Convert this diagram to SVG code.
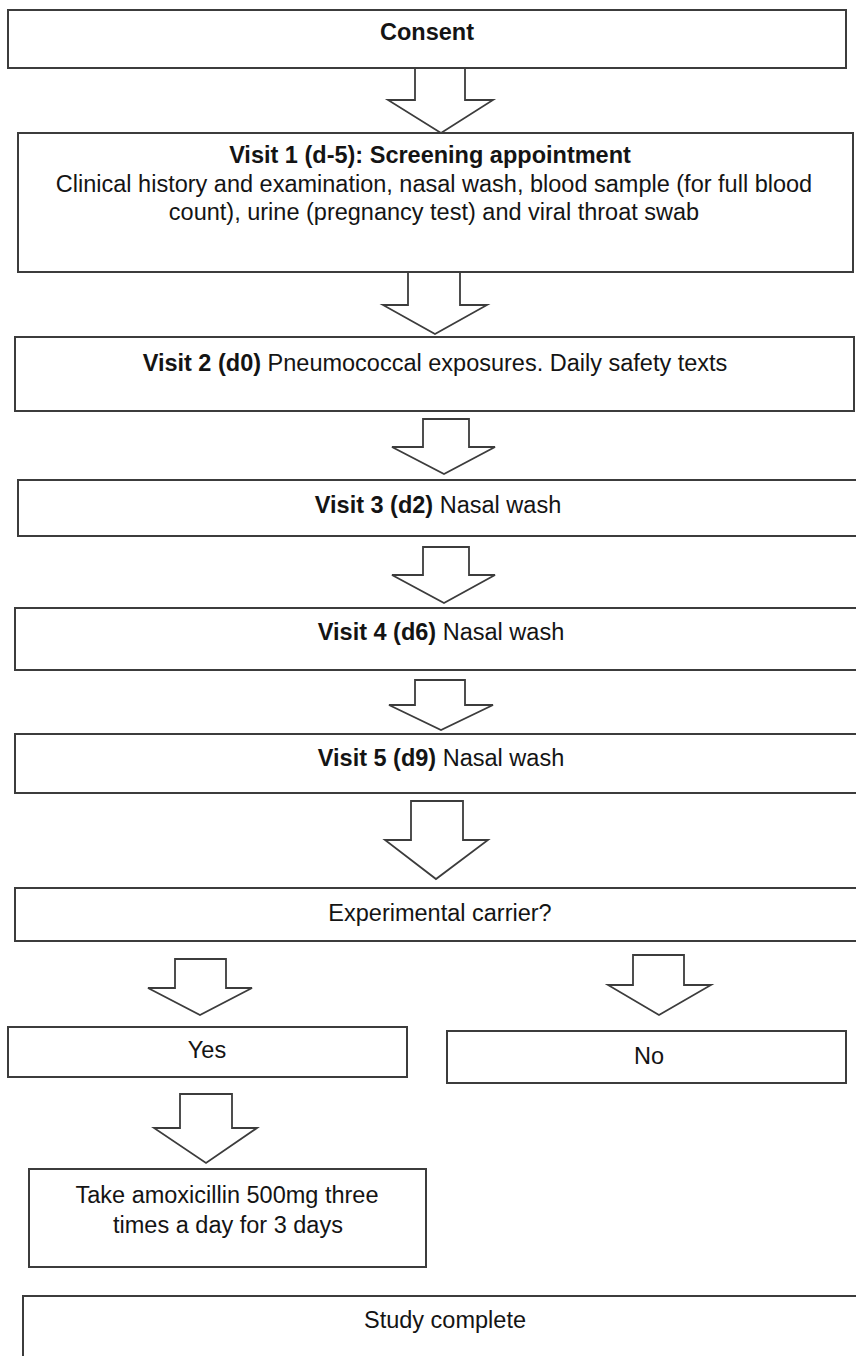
<svg xmlns="http://www.w3.org/2000/svg" width="856" height="1356" viewBox="0 0 856 1356">
  <style>
    .box { fill: #ffffff; stroke: #3c3c3c; stroke-width: 2; }
    .arrow { fill: #ffffff; stroke: #3c3c3c; stroke-width: 1.8; stroke-linejoin: miter; }
    text { font-family: "Liberation Sans", Arial, sans-serif; font-size: 23.5px; fill: #141414; text-anchor: middle; }
    .b { font-weight: bold; }
  </style>
  <rect width="856" height="1356" fill="#ffffff"/>

  <!-- block arrows between the steps -->
  <g id="connectors">
    <polygon class="arrow" points="415,68 465,68 465,100 493,100 441,133 388,100 415,100"/>
    <polygon class="arrow" points="408,272 460,272 460,305 487,305 435,334 383,305 408,305"/>
    <polygon class="arrow" points="423,419 469,419 469,447 495,447 444,474 392,447 423,447"/>
    <polygon class="arrow" points="423,547 469,547 469,575 495,575 444,603 392,575 423,575"/>
    <polygon class="arrow" points="415,680 465,680 465,705 493,705 441,730 389,705 415,705"/>
    <polygon class="arrow" points="411,801 463,801 463,840 488,840 436,879 385,840 411,840"/>
    <polygon class="arrow" points="175,959 226,959 226,988 252,988 200,1015 148,988 175,988"/>
    <polygon class="arrow" points="633,955 684,955 684,985 711,985 659,1015 608,985 633,985"/>
    <polygon class="arrow" points="180,1094 232,1094 232,1128 257,1128 206,1163 154,1128 180,1128"/>
  </g>

  <g id="consent">
    <rect class="box" x="8" y="10" width="838" height="58"/>
    <text class="b" x="427" y="40">Consent</text>
  </g>

  <g id="visit1">
    <rect class="box" x="18" y="133" width="835" height="139"/>
    <text class="b" x="430" y="163">Visit 1 (d-5): Screening appointment</text>
    <text x="434" y="192">Clinical history and examination, nasal wash, blood sample (for full blood</text>
    <text x="434" y="220">count), urine (pregnancy test) and viral throat swab</text>
  </g>

  <g id="visit2">
    <rect class="box" x="15" y="337" width="839" height="74"/>
    <text x="435" y="371"><tspan class="b">Visit 2 (d0)</tspan> Pneumococcal exposures. Daily safety texts</text>
  </g>

  <g id="visit3">
    <rect class="box" x="18" y="480" width="860" height="56"/>
    <text x="438" y="513"><tspan class="b">Visit 3 (d2)</tspan> Nasal wash</text>
  </g>

  <g id="visit4">
    <rect class="box" x="15" y="608" width="860" height="62"/>
    <text x="441" y="640"><tspan class="b">Visit 4 (d6)</tspan> Nasal wash</text>
  </g>

  <g id="visit5">
    <rect class="box" x="15" y="734" width="860" height="59"/>
    <text x="441" y="766"><tspan class="b">Visit 5 (d9)</tspan> Nasal wash</text>
  </g>

  <g id="carrier">
    <rect class="box" x="15" y="888" width="860" height="53"/>
    <text x="440" y="921">Experimental carrier?</text>
  </g>

  <g id="yes">
    <rect class="box" x="8" y="1027" width="399" height="50"/>
    <text x="207" y="1058">Yes</text>
  </g>

  <g id="no">
    <rect class="box" x="447" y="1031" width="399" height="52"/>
    <text x="649" y="1064">No</text>
  </g>

  <g id="amoxicillin">
    <rect class="box" x="29" y="1169" width="397" height="98"/>
    <text x="227" y="1203">Take amoxicillin 500mg three</text>
    <text x="228" y="1233">times a day for 3 days</text>
  </g>

  <g id="complete">
    <rect class="box" x="23" y="1296" width="860" height="90"/>
    <text x="445" y="1328">Study complete</text>
  </g>
</svg>
